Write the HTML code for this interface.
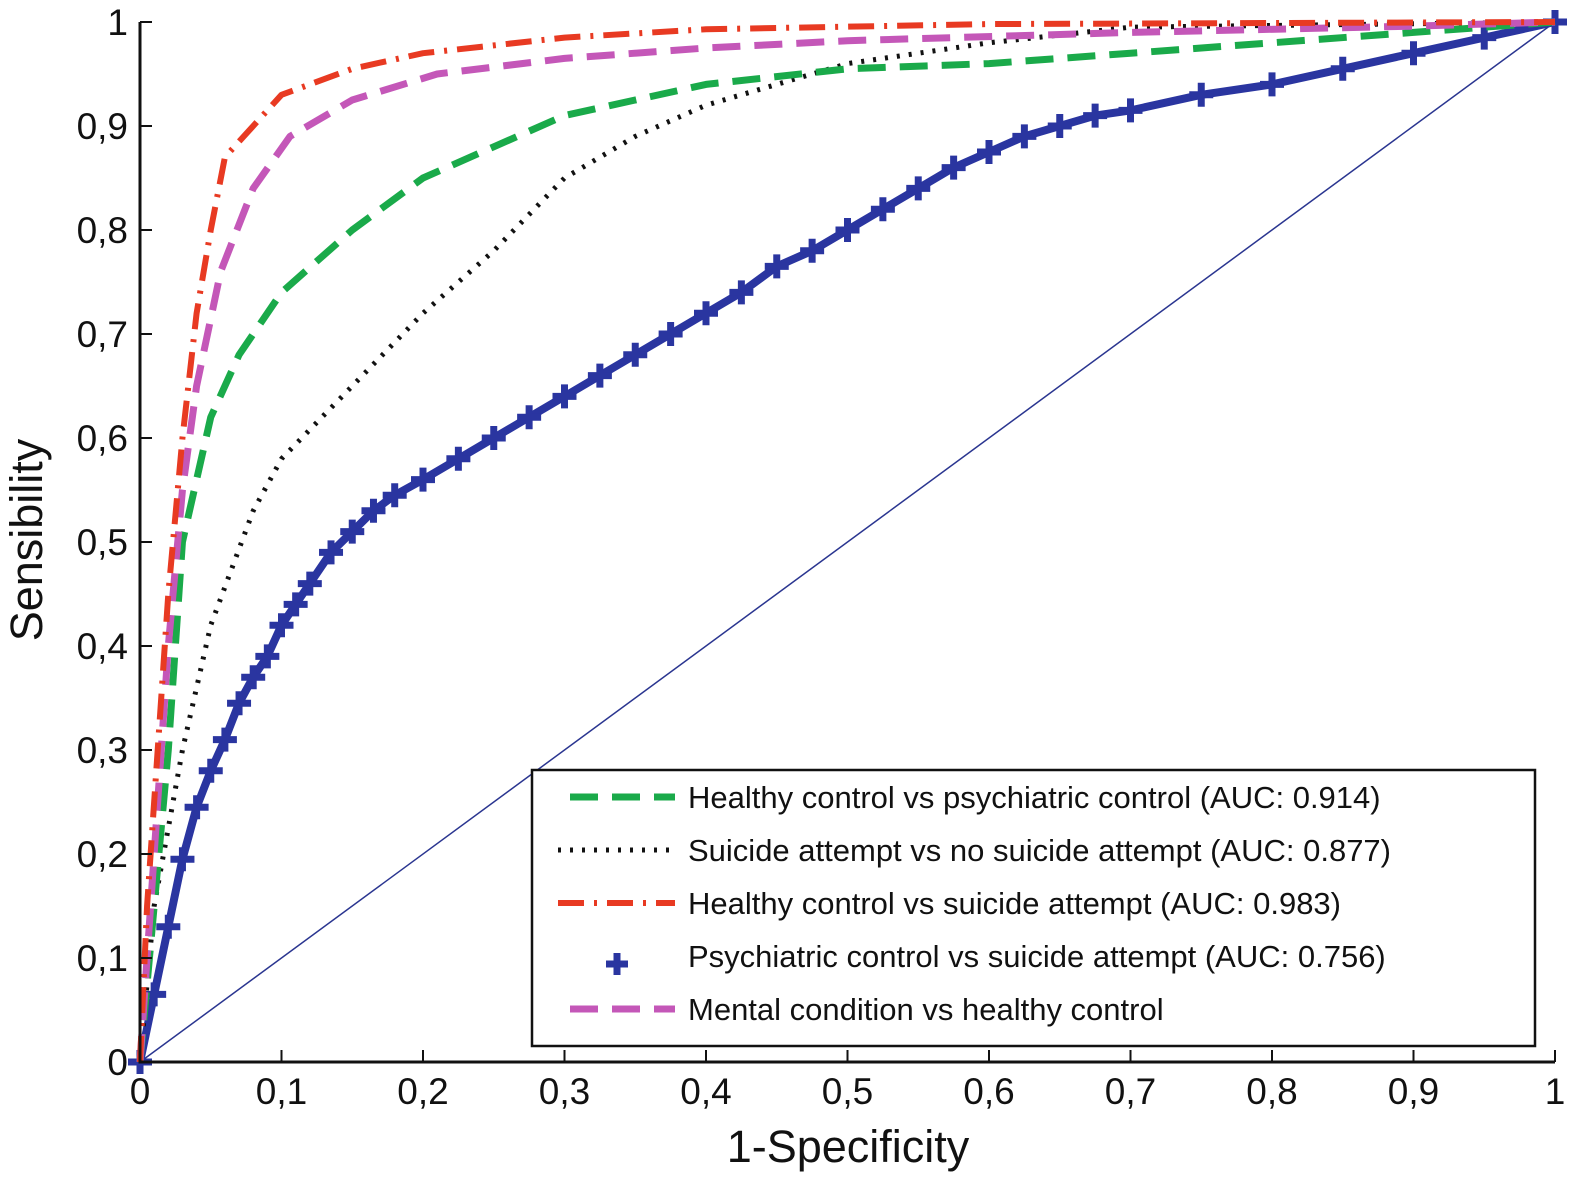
<!DOCTYPE html>
<html><head><meta charset="utf-8"><style>
body{margin:0;background:#fff;}
svg{display:block;font-family:"Liberation Sans",sans-serif;}
</style></head><body>
<svg id="chart" width="1586" height="1186" viewBox="0 0 1586 1186" xmlns="http://www.w3.org/2000/svg">
<g id="plot"></g>
</svg>
<script>
const xTicks=[0,0.1,0.2,0.3,0.4,0.5,0.6,0.7,0.8,0.9,1];
const yTicks=[0,0.1,0.2,0.3,0.4,0.5,0.6,0.7,0.8,0.9,1];
const tickLabels=["0","0,1","0,2","0,3","0,4","0,5","0,6","0,7","0,8","0,9","1"];
const greenX=[0,0.01,0.02,0.03,0.05,0.07,0.1,0.15,0.2,0.25,0.3,0.4,0.5,0.6,0.7,0.8,0.9,1];
const greenY=[0,0.15,0.3,0.5,0.62,0.68,0.74,0.8,0.85,0.88,0.91,0.94,0.955,0.96,0.97,0.98,0.99,1];
const blackX=[0,0.01,0.03,0.05,0.08,0.1,0.15,0.2,0.25,0.3,0.35,0.4,0.5,0.6,0.7,1];
const blackY=[0,0.15,0.3,0.42,0.53,0.58,0.65,0.72,0.78,0.85,0.89,0.92,0.96,0.98,0.995,1];
const redX=[0,0.005,0.01,0.02,0.03,0.04,0.05,0.06,0.08,0.1,0.15,0.2,0.3,0.4,0.6,1];
const redY=[0,0.15,0.25,0.45,0.6,0.72,0.8,0.87,0.9,0.93,0.955,0.97,0.985,0.993,0.998,1];
const magentaX=[0,0.01,0.02,0.03,0.04,0.057,0.08,0.106,0.15,0.21,0.3,0.4,0.5,0.7,0.9,1];
const magentaY=[0,0.2,0.4,0.55,0.65,0.76,0.84,0.89,0.925,0.95,0.965,0.975,0.982,0.99,0.996,1];
const blueX=[0,0.01,0.02,0.03,0.04,0.05,0.06,0.07,0.08,0.09,0.1,0.11,0.12,0.135,0.15,0.165,0.18,0.2,0.225,0.25,0.275,0.3,0.325,0.35,0.375,0.4,0.425,0.45,0.475,0.5,0.525,0.55,0.575,0.6,0.625,0.65,0.675,0.7,0.75,0.8,0.85,0.9,0.95,1];
const blueY=[0,0.065,0.13,0.195,0.245,0.28,0.31,0.345,0.37,0.39,0.42,0.44,0.46,0.49,0.51,0.53,0.545,0.56,0.58,0.6,0.62,0.64,0.66,0.68,0.7,0.72,0.74,0.765,0.78,0.8,0.82,0.84,0.86,0.875,0.89,0.9,0.91,0.915,0.93,0.94,0.955,0.97,0.985,1];
const legendLabels=["Healthy control vs psychiatric control (AUC: 0.914)","Suicide attempt vs no suicide attempt (AUC: 0.877)","Healthy control vs suicide attempt (AUC: 0.983)","Psychiatric control vs suicide attempt (AUC: 0.756)","Mental condition vs healthy control"];

const X0=140,X1=1555,Y0=1062,Y1=22;
const sx=v=>X0+v*(X1-X0);
const sy=v=>Y0-v*(Y0-Y1);
const NS="http://www.w3.org/2000/svg";
const g=document.getElementById('plot');
function mk(t,a,p){const e=document.createElementNS(NS,t);for(const k in a)e.setAttribute(k,a[k]);(p||g).appendChild(e);return e;}

let d=mk('line',{x1:sx(0),y1:sy(0),x2:sx(1),y2:sy(1),stroke:'#2a3590','stroke-width':1.5});



function pts(xs,ys){return xs.map((x,i)=>sx(x)+','+sy(ys[i])).join(' ');}
function curve(xs,ys,color,w,dash,name,cap){
  const p=mk('polyline',{points:pts(xs,ys),fill:'none',stroke:color,'stroke-width':w,'stroke-dasharray':dash,'stroke-linejoin':'round','stroke-linecap':cap||'butt'});
  
  
}
function plus(cx,cy,s,parent){
  mk('path',{d:`M${cx-s},${cy}H${cx+s}M${cx},${cy-s}V${cy+s}`,stroke:'#2a35a0','stroke-width':7},parent);
}
curve(blueX,blueY,'#2a35a0',8,'none','psychiatric-vs-suicide-curve');
const bg=mk('g',{});


blueX.forEach((x,i)=>plus(sx(x),sy(blueY[i]),12,bg));

curve(blackX,blackY,'#111',5,'3 9','suicide-vs-no-suicide-curve');
curve(greenX,greenY,'#1aaa4a',7,'28 14','healthy-vs-psychiatric-curve');
curve(magentaX,magentaY,'#c457b8',7,'28 14','mental-vs-healthy-curve');
curve(redX,redY,'#e83a22',6,'26 10 3 10','healthy-vs-suicide-curve');

let ax=mk('path',{d:`M${X0},${Y1}V${Y0}H${X1}`,stroke:'#111','stroke-width':3,fill:'none'});


xTicks.forEach((v,i)=>{
  mk('line',{x1:sx(v),y1:Y0,x2:sx(v),y2:Y0-12,stroke:'#111','stroke-width':2});
  const t=mk('text',{x:sx(v),y:Y0+42,'text-anchor':'middle','font-size':37,fill:'#111'});
  t.textContent=tickLabels[i];
  
  
});
yTicks.forEach((v,i)=>{
  mk('line',{x1:X0,y1:sy(v),x2:X0+12,y2:sy(v),stroke:'#111','stroke-width':2});
  const t=mk('text',{x:X0-12,y:sy(v)+13,'text-anchor':'end','font-size':37,fill:'#111'});
  t.textContent=tickLabels[i];
  
  
});
let xt=mk('text',{x:848,y:1162,'text-anchor':'middle','font-size':45,fill:'#111'});
xt.textContent='1-Specificity';


let yt=mk('text',{x:0,y:0,'text-anchor':'middle','font-size':45,fill:'#111',transform:'translate(42,540) rotate(-90)'});
yt.textContent='Sensibility';



const lg=mk('g',{});


mk('rect',{x:532,y:770,width:1003,height:276,fill:'#fff',stroke:'#111','stroke-width':2.5},lg);
const sw=[['#1aaa4a',7,'28 14'],['#111',5,'3 9'],['#e83a22',6,'26 10 3 10'],null,['#c457b8',7,'28 14']];
legendLabels.forEach((lab,i)=>{
  const y=797+i*53;
  const e=mk('g',{},lg);
  
  
  if(sw[i]) mk('line',{x1:i==1||i==2?558:570,y1:y,x2:675,y2:y,stroke:sw[i][0],'stroke-width':sw[i][1],'stroke-dasharray':sw[i][2]},e);
  else plus(617,y+8,11,e);
  const t=mk('text',{x:688,y:y+11,'font-size':31,fill:'#111'},e);
  t.textContent=lab;
});
</script>
</body></html>
